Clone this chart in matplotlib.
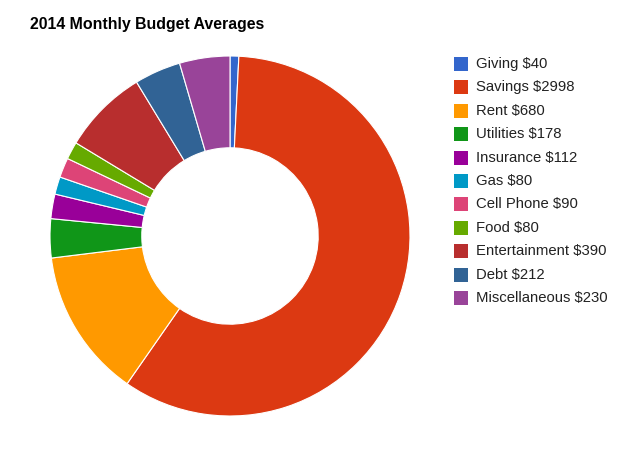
import matplotlib.pyplot as plt
from matplotlib.patches import Rectangle

plt.rcParams['font.family'] = ['Liberation Sans', 'DejaVu Sans']

categories = ['Giving', 'Savings', 'Rent', 'Utilities', 'Insurance', 'Gas',
              'Cell Phone', 'Food', 'Entertainment', 'Debt', 'Miscellaneous']
amounts = [40, 2998, 680, 178, 112, 80, 90, 80, 390, 212, 230]
colors = ['#3366cc', '#dc3912', '#ff9900', '#109618', '#990099', '#0099c6',
          '#dd4477', '#66aa00', '#b82e2e', '#316395', '#994499']

W, H = 627, 470
fig = plt.figure(figsize=(W / 100, H / 100), dpi=100)

# donut
cx, cy, r = 230, 236, 180
ax = fig.add_axes([(cx - r) / W, (H - cy - r) / H, 2 * r / W, 2 * r / H])
ax.pie(amounts, colors=colors, startangle=90, counterclock=False,
       radius=1.0, wedgeprops=dict(width=0.51, edgecolor='white', linewidth=0.8))
ax.set_xlim(-1, 1)
ax.set_ylim(-1, 1)
ax.set_aspect('equal')
ax.axis('off')

fig.text(30 / W, 1 - 25 / H, '2014 Monthly Budget Averages',
         fontsize=11.4, fontweight='bold', va='center', ha='left')

# legend
x0, y0, step, sq = 454, 64, 23.4, 14
for i, (name, val, col) in enumerate(zip(categories, amounts, colors)):
    y = y0 + i * step
    fig.patches.append(Rectangle((x0 / W, 1 - (y + sq / 2) / H), sq / W, sq / H,
                                 transform=fig.transFigure, facecolor=col,
                                 edgecolor='none'))
    fig.text((x0 + 22) / W, 1 - y / H, f'{name} ${val}', fontsize=10.7,
             va='center', ha='left', color='#222222')

fig.savefig('out.png', dpi=100)
